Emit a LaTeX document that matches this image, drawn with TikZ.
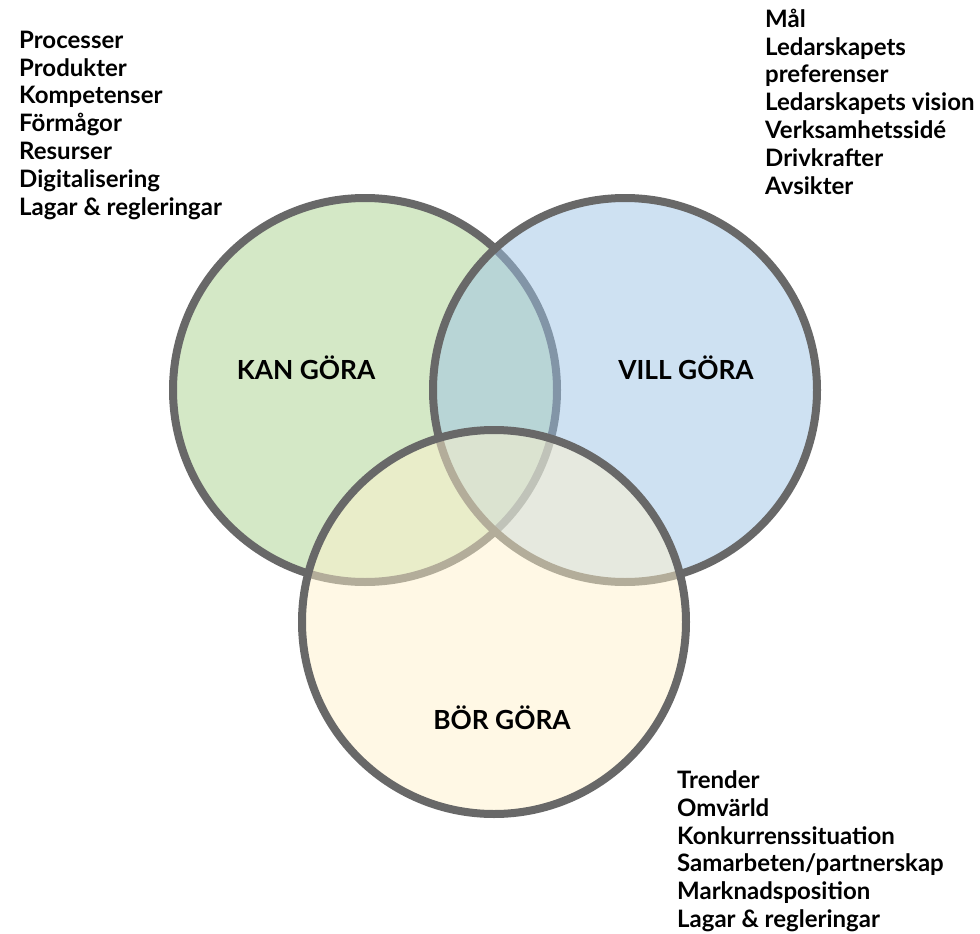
\documentclass[tikz,border=0pt]{standalone}
\usepackage{fontspec}
\setmainfont{Lato}
\definecolor{ringgray}{HTML}{686868}
\definecolor{kangreen}{HTML}{A9D18E}
\definecolor{villblue}{HTML}{9DC3E6}
\definecolor{boryellow}{HTML}{FFF2CC}
\tikzset{
  ring/.style={draw=ringgray, line width=8pt, fill opacity=0.5},
  biglabel/.style={font=\fontsize{26.3}{30}\selectfont\bfseries, inner sep=0pt, anchor=center},
  listline/.style={font=\fontsize{24}{28}\selectfont\bfseries, inner sep=0pt, anchor=base west}
}
\begin{document}
\begin{tikzpicture}[x=1pt,y=-1pt]
\useasboundingbox (0,0) rectangle (980,934);
% circles
\draw[ring, fill=kangreen] (365,390) circle[radius=192];
\draw[ring, fill=villblue] (625,390) circle[radius=192];
\draw[ring, fill=boryellow] (494,622) circle[radius=192];
% labels
\node[biglabel] (kan) at (306,368) {KAN GÖRA};
\node[biglabel] (vill) at (686,368) {VILL GÖRA};
\node[biglabel] (bor) at (502,718) {BÖR GÖRA};
% top-left list
\foreach \t [count=\i] in {Processer,Produkter,Kompetenser,Förmågor,Resurser,Digitalisering,Lagar \& regleringar}
  \node[listline] (tl\i) at (19,48.3+27.8*\i-27.8) {\t};
% top-right list
\foreach \t [count=\i] in {Mål,Ledarskapets,preferenser,Ledarskapets vision,Verksamhetssidé,Drivkrafter,Avsikter}
  \node[listline] (tr\i) at (765,27.3+27.8*\i-27.8) {\t};
% bottom-right list
\foreach \t [count=\i] in {Trender,Omvärld,Konkurrenssituation,Samarbeten/partnerskap,Marknadsposition,Lagar \& regleringar}
  \node[listline] (br\i) at (677,788.5+27.8*\i-27.8) {\t};
\end{tikzpicture}
\end{document}
